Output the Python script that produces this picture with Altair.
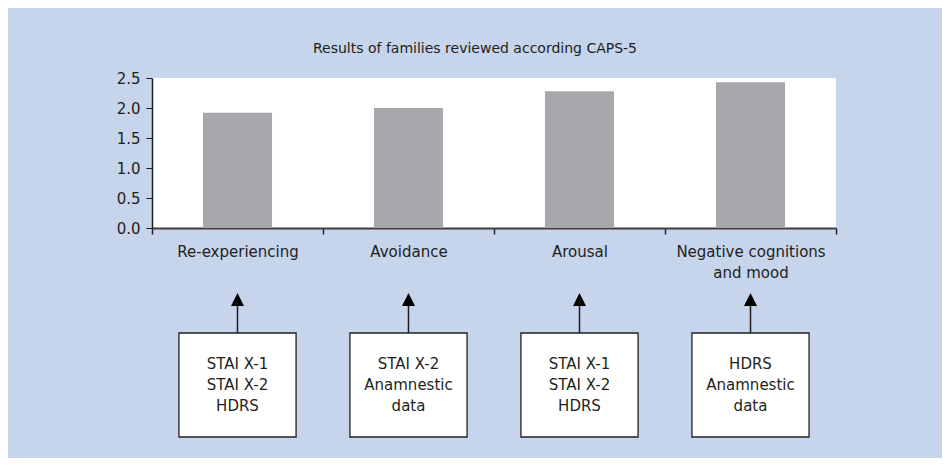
import altair as alt
import pandas as pd

# ---- data ----
categories = ["Re-experiencing", "Avoidance", "Arousal", "Negative cognitions and mood"]
scores = [1.92, 2.0, 2.28, 2.43]
box_texts = [
    "STAI X-1\nSTAI X-2\nHDRS",
    "STAI X-2\nAnamnestic\ndata",
    "STAI X-1\nSTAI X-2\nHDRS",
    "HDRS\nAnamnestic\ndata",
]
y_ticks = [0.0, 0.5, 1.0, 1.5, 2.0, 2.5]
title_text = "Results of families reviewed according CAPS-5"

df = pd.DataFrame({"category": categories, "score": scores, "box": box_texts})

FONT = "DejaVu Sans"
BLUE = "#c6d4ec"

x_enc = alt.X(
    "category:N",
    sort=categories,
    scale=alt.Scale(paddingInner=0, paddingOuter=0),
    axis=alt.Axis(
        title=None,
        labelAngle=0,
        tickBand="extent",
        tickSize=6,
        tickColor="#231f20",
        tickWidth=1.5,
        domainColor="#3f3f3f",
        domainWidth=2,
        labelFontSize=15,
        labelFont=FONT,
        labelColor="#231f20",
        labelPadding=10,
        labelLineHeight=21,
        labelExpr="datum.label == 'Negative cognitions and mood' ? ['Negative cognitions', 'and mood'] : datum.label",
    ),
)

bars = alt.Chart(df).mark_bar(color="#a7a8ab", width=alt.RelativeBandSize(0.404)).encode(
    x=x_enc,
    y=alt.Y(
        "score:Q",
        scale=alt.Scale(domain=[0, 2.5], nice=False),
        axis=alt.Axis(
            title=None,
            values=y_ticks,
            format=".1f",
            grid=False,
            tickSize=6,
            tickColor="#231f20",
            domainColor="#231f20",
            domainWidth=1.5,
            labelFontSize=15,
            labelFont=FONT,
            labelColor="#231f20",
            labelPadding=6,
        ),
    ),
)

arrow_line = alt.Chart(df).mark_rule(color="#231f20", strokeWidth=1.5).encode(
    x=alt.X("category:N", sort=categories),
    y=alt.value(224),
    y2=alt.value(255),
)

arrow_head = alt.Chart(df).mark_point(
    shape="M0,-1L1,1L-1,1Z", filled=True, color="#000000", opacity=1, size=169
).encode(
    x=alt.X("category:N", sort=categories),
    y=alt.value(221.5),
)

boxes = alt.Chart(df).mark_bar(
    fill="white", stroke="#231f20", strokeWidth=1.3, width=alt.RelativeBandSize(0.685)
).encode(
    x=alt.X("category:N", sort=categories),
    y=alt.value(255),
    y2=alt.value(359),
)

box_text = alt.Chart(df).mark_text(
    lineBreak="\n", fontSize=15, font=FONT, lineHeight=21, baseline="middle", color="#231f20"
).encode(
    x=alt.X("category:N", sort=categories),
    y=alt.value(286),
    text="box:N",
)

chart = (
    alt.layer(bars, arrow_line, arrow_head, boxes, box_text)
    .properties(
        width=684,
        height=150,
        title=alt.TitleParams(
            title_text, fontSize=14, font=FONT, fontWeight="normal", color="#231f20", dx=-19, offset=15
        ),
        background=BLUE,
        autosize=alt.AutoSizeParams(type="none"),
        padding={"left": 144, "top": 70, "right": 106, "bottom": 230},
    )
    .configure_view(fill="white", stroke=None)
)

chart.save("out.html", embed_options={"renderer": "svg", "actions": False})
